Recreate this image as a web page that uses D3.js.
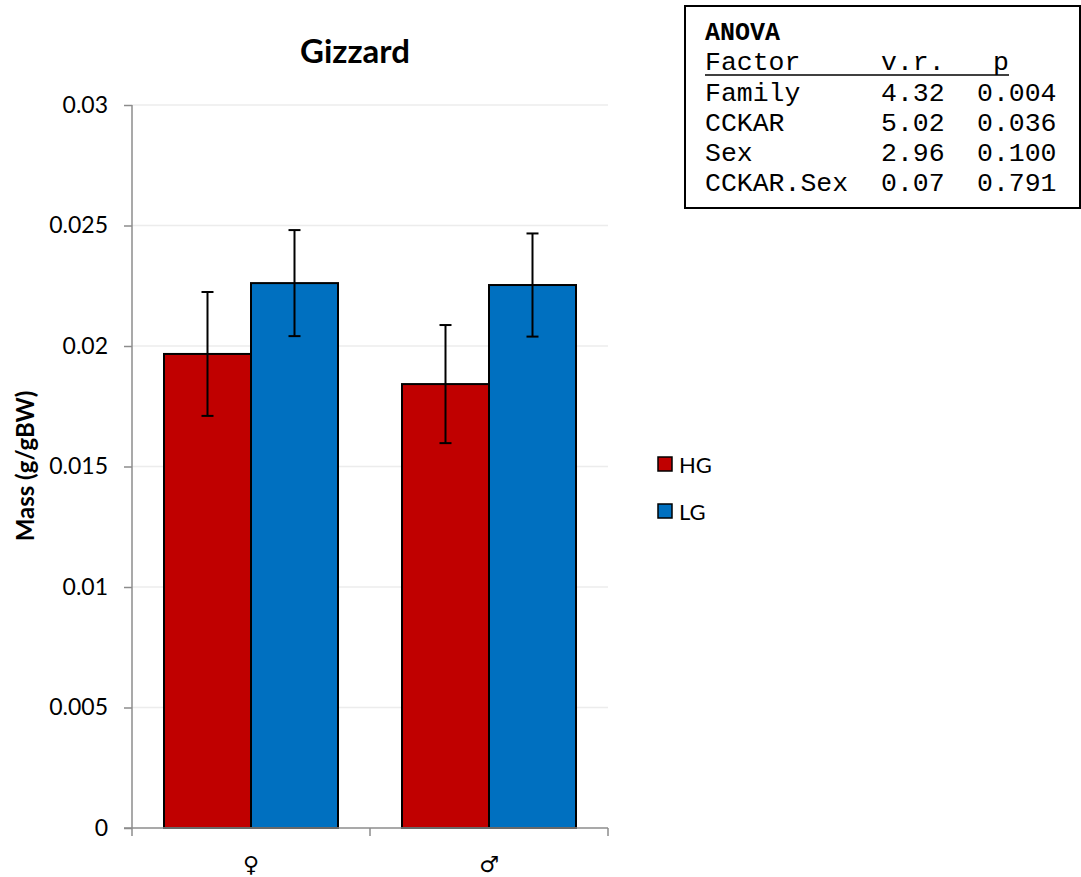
<!DOCTYPE html>
<html>
<head>
<meta charset="utf-8">
<script src="https://cdn.jsdelivr.net/npm/d3@7"></script>
<style>
  body { margin: 0; background: #fff; }
  svg { display: block; font-family: Lato, "Liberation Sans", sans-serif; }
</style>
</head>
<body>
<svg id="chart" width="1081" height="877"></svg>
<script>
// chart values
var sexes = ["\u2640", "\u2642"];
var groups = ["HG", "LG"];
var colors = ["#c00000", "#0070c0"];
var means = [[0.01967, 0.02261], [0.01842, 0.02253]];
var errs = [[0.00257, 0.0022], [0.00245, 0.00214]];
var yTicks = [0, 0.005, 0.01, 0.015, 0.02, 0.025, 0.03];

var anovaFactors = ["Family", "CCKAR", "Sex", "CCKAR.Sex"];
var anovaVR = ["4.32", "5.02", "2.96", "0.07"];
var anovaP = ["0.004", "0.036", "0.100", "0.791"];

var svg = d3.select("#chart");

var plotLeft = 132, plotRight = 608, plotTop = 105, plotBottom = 828;

var y = d3.scaleLinear().domain([0, 0.03]).range([plotBottom, plotTop]);
var x0 = d3.scaleBand().domain(sexes).range([plotLeft, plotRight]);
var x1 = d3.scaleBand().domain(groups).range([32, x0.bandwidth() - 32]);

// gridlines
svg.append("g")
    .selectAll("line")
    .data(yTicks.slice(1))
    .enter().append("line")
    .attr("x1", plotLeft).attr("x2", plotRight)
    .attr("y1", function(d) { return y(d); })
    .attr("y2", function(d) { return y(d); })
    .attr("stroke", "#ececec")
    .attr("stroke-width", 1.3);

// y axis
var yAxis = d3.axisLeft(y).tickValues(yTicks).tickSize(8).tickPadding(16)
    .tickFormat(function(d) { return d === 0 ? "0" : String(+d.toFixed(3)); });
var yg = svg.append("g")
    .attr("transform", "translate(" + plotLeft + ",0)")
    .call(yAxis);
yg.selectAll("path, line").attr("stroke", "#8c8c8c").attr("stroke-width", 1.5);
yg.select(".domain").attr("d", "M0," + plotBottom + "V" + plotTop);
yg.selectAll("text").attr("font-size", 23).attr("fill", "#000").attr("font-family", "Lato");

// bars
var gBars = svg.append("g");
sexes.forEach(function(s, i) {
  groups.forEach(function(g, j) {
    var bx = x0(s) + x1(g);
    gBars.append("rect")
        .attr("x", bx)
        .attr("y", y(means[i][j]))
        .attr("width", x1.bandwidth())
        .attr("height", plotBottom - y(means[i][j]))
        .attr("fill", colors[j])
        .attr("stroke", "#000")
        .attr("stroke-width", 2);
  });
});

// x axis
var xg = svg.append("g");
xg.append("line")
    .attr("x1", plotLeft - 8).attr("x2", plotRight)
    .attr("y1", plotBottom).attr("y2", plotBottom)
    .attr("stroke", "#8c8c8c").attr("stroke-width", 1.5);
xg.selectAll(".xt")
    .data([plotLeft, x0(sexes[1]), plotRight])
    .enter().append("line")
    .attr("x1", function(d) { return d; }).attr("x2", function(d) { return d; })
    .attr("y1", plotBottom).attr("y2", plotBottom + 8)
    .attr("stroke", "#8c8c8c").attr("stroke-width", 1.5);
xg.selectAll(".xl")
    .data(sexes)
    .enter().append("text")
    .attr("x", function(d) { return x0(d) + x0.bandwidth() / 2; })
    .attr("y", 872)
    .attr("text-anchor", "middle")
    .attr("font-size", 22)
    .attr("font-family", "DejaVu Sans")
    .text(function(d) { return d; });

// error bars
var gErr = svg.append("g").attr("stroke", "#000").attr("stroke-width", 2);
sexes.forEach(function(s, i) {
  groups.forEach(function(g, j) {
    var cx = x0(s) + x1(g) + x1.bandwidth() / 2;
    var hi = y(means[i][j] + errs[i][j]), lo = y(means[i][j] - errs[i][j]);
    gErr.append("line").attr("x1", cx).attr("x2", cx).attr("y1", hi).attr("y2", lo);
    gErr.append("line").attr("x1", cx - 6).attr("x2", cx + 6).attr("y1", hi).attr("y2", hi);
    gErr.append("line").attr("x1", cx - 6).attr("x2", cx + 6).attr("y1", lo).attr("y2", lo);
  });
});

// title
svg.append("text")
    .attr("x", 355).attr("y", 63)
    .attr("text-anchor", "middle")
    .attr("font-size", 33).attr("font-weight", "bold")
    .text("Gizzard");

// y label
svg.append("text")
    .attr("transform", "translate(34,466) rotate(-90)")
    .attr("text-anchor", "middle")
    .attr("font-size", 24).attr("font-weight", "bold")
    .text("Mass (g/gBW)");

// legend
var legend = svg.append("g").selectAll("g")
    .data(groups)
    .enter().append("g")
    .attr("transform", function(d, i) { return "translate(658," + (457 + i * 47) + ")"; });
legend.append("rect")
    .attr("width", 14).attr("height", 14)
    .attr("fill", function(d, i) { return colors[i]; })
    .attr("stroke", "#000").attr("stroke-width", 1.5);
legend.append("text")
    .attr("x", 21).attr("y", 16)
    .attr("font-size", 22)
    .text(function(d) { return d; });

// ANOVA table box
var box = svg.append("g").attr("font-family", "'Liberation Mono', monospace");
box.append("rect")
    .attr("x", 685).attr("y", 6).attr("width", 395).attr("height", 202)
    .attr("fill", "#fff").attr("stroke", "#000").attr("stroke-width", 2);
var cw = 16, tx = 705;
box.append("text")
    .attr("x", tx).attr("y", 40)
    .attr("font-size", 25).attr("font-weight", "bold")
    .text("ANOVA");
var head = box.append("text").attr("y", 70).attr("font-size", 26.5);
head.append("tspan").attr("x", tx).text("Factor");
head.append("tspan").attr("x", tx + 11 * cw).text("v.r.");
head.append("tspan").attr("x", tx + 18 * cw).text("p");
box.append("line")
    .attr("x1", tx).attr("x2", tx + 19 * cw)
    .attr("y1", 75).attr("y2", 75)
    .attr("stroke", "#000").attr("stroke-width", 1.5);
anovaFactors.forEach(function(f, i) {
  var t = box.append("text").attr("y", 101 + i * 30).attr("font-size", 26.5);
  t.append("tspan").attr("x", tx).text(f);
  t.append("tspan").attr("x", tx + 11 * cw).text(anovaVR[i]);
  t.append("tspan").attr("x", tx + 17 * cw).text(anovaP[i]);
});
</script>
</body>
</html>
